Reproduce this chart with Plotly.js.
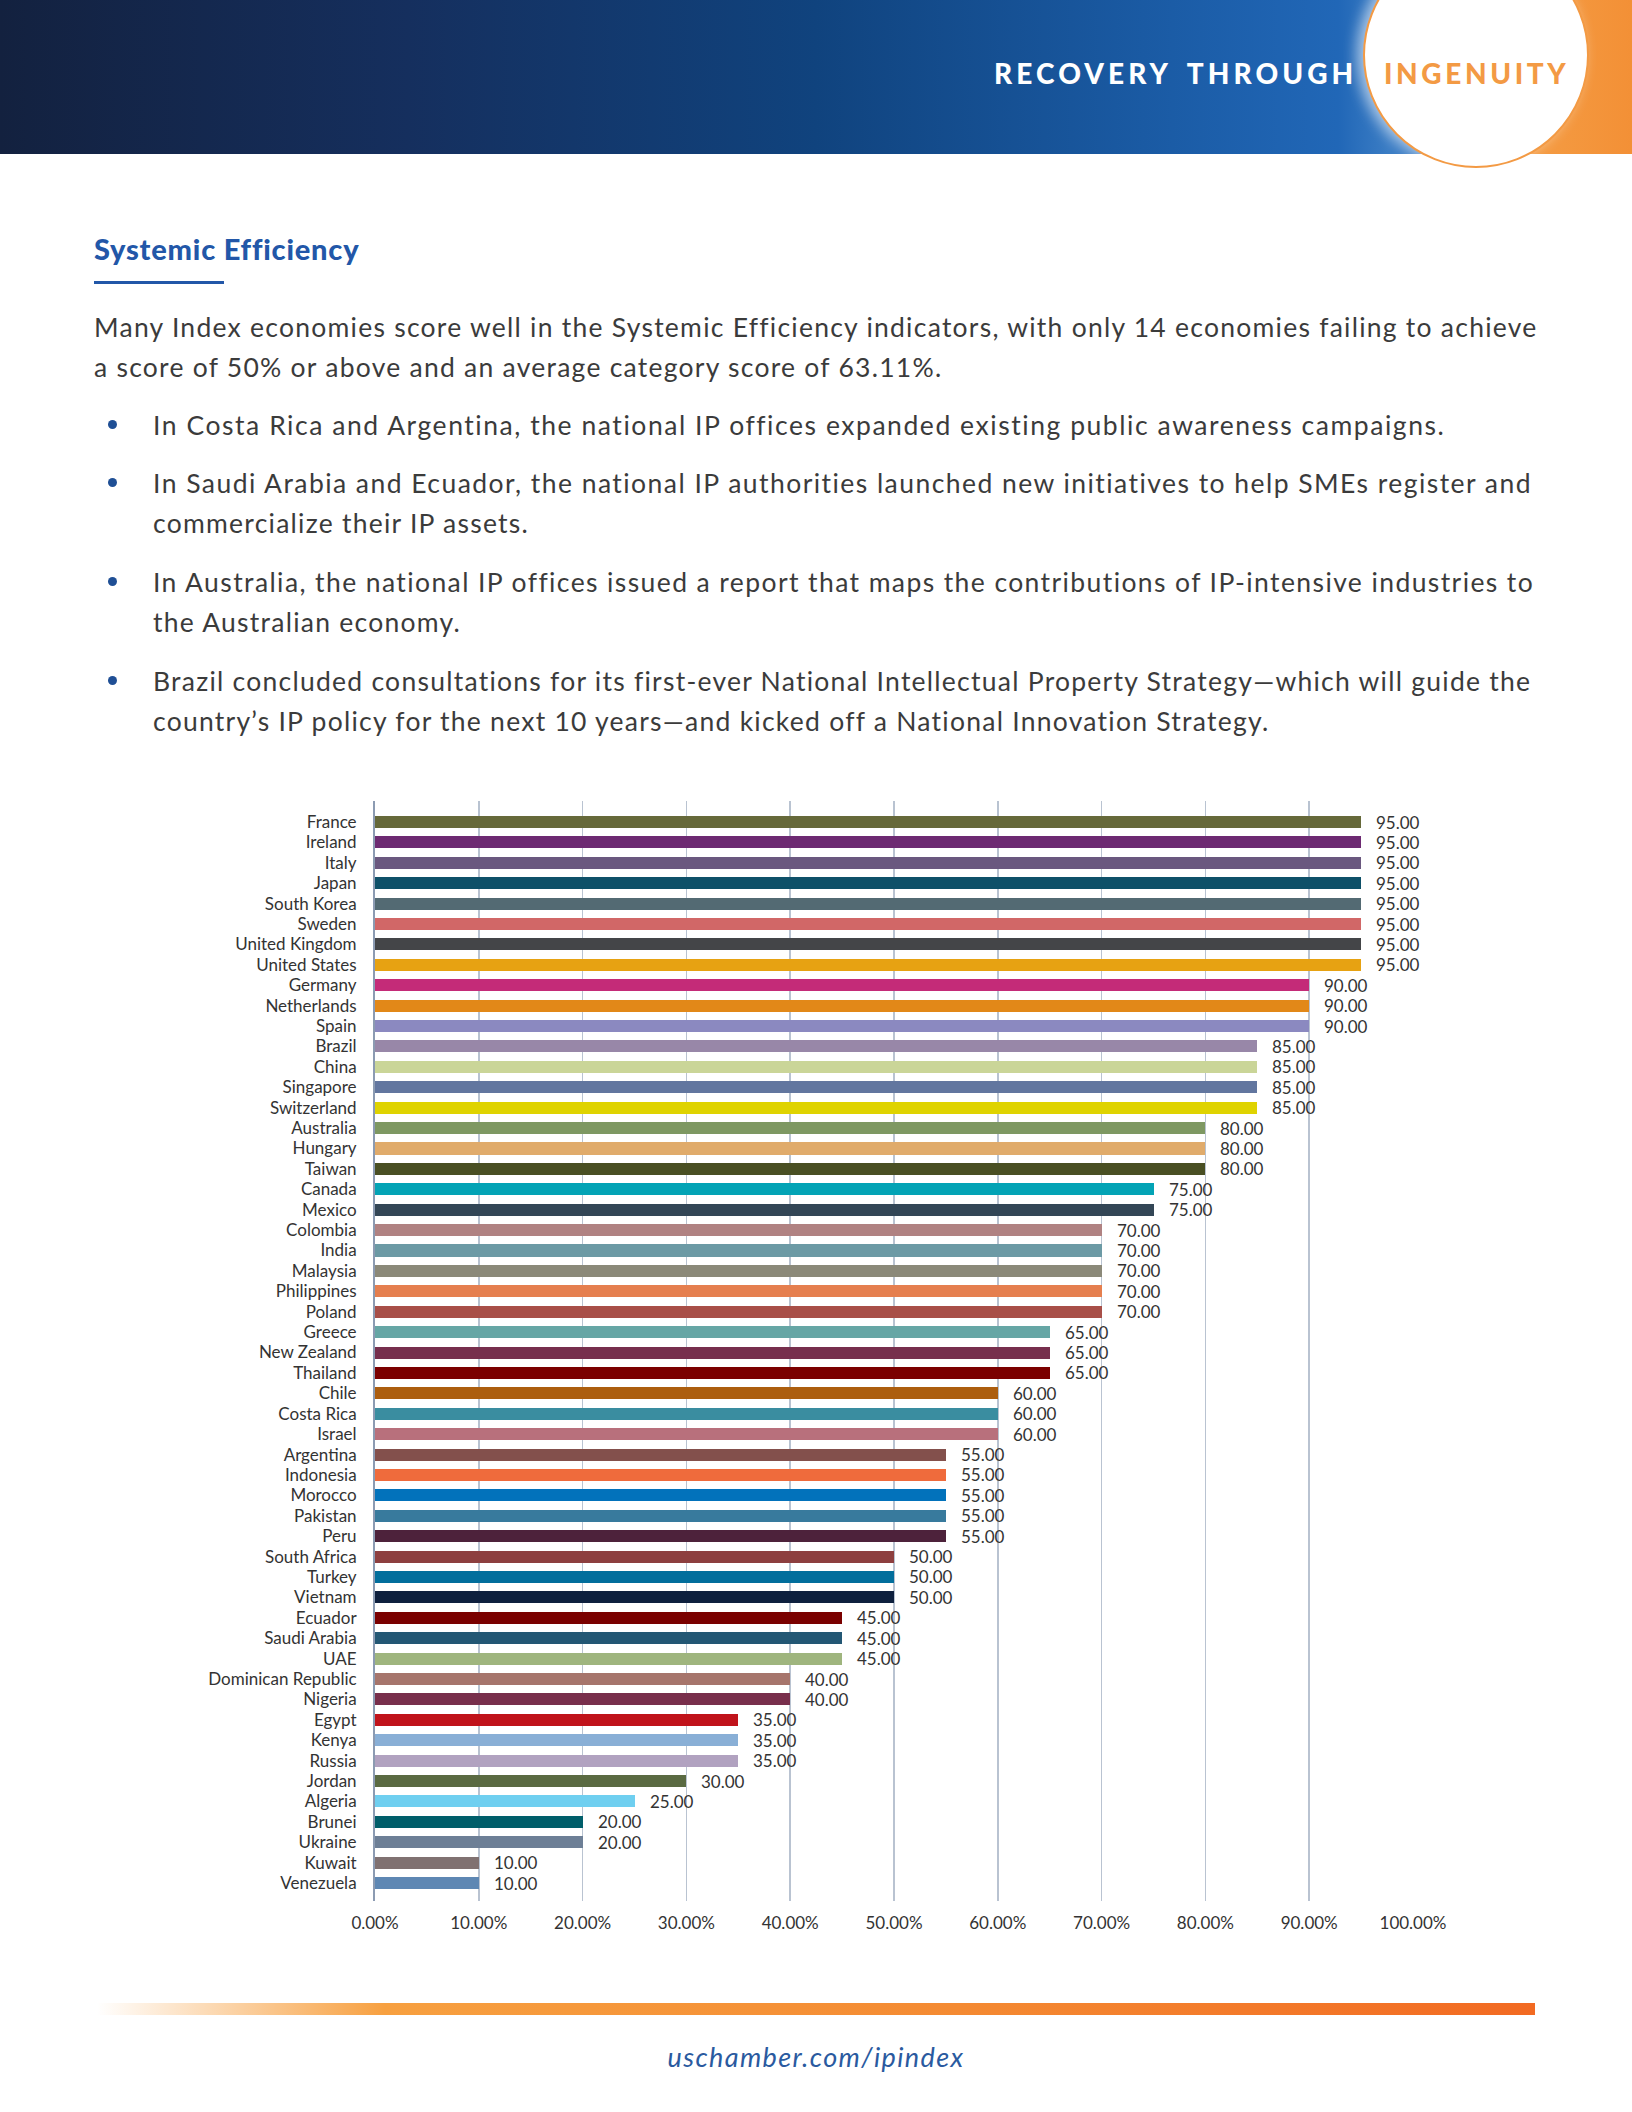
<!DOCTYPE html>
<html>
<head>
<meta charset="utf-8">
<script src="https://cdn.plot.ly/plotly-3.0.1.min.js"></script>
<style>
  html, body { margin:0; padding:0; background:#fff; }
  body { width:1632px; height:2112px; position:relative; overflow:hidden; font-family: Lato, "Noto Sans", sans-serif; color:#3a3a3a; }
  .abs { position:absolute; white-space:nowrap; }
  #header { position:absolute; left:0; top:0; width:1632px; height:154px;
    background: linear-gradient(to right, #13213f 0%, #152f5e 25%, #10437e 50%, #1a5aa3 70%, #2167b7 82%, #3a7cc4 85%); overflow:hidden; }
  #orange { position:absolute; left:1480px; top:0; width:152px; height:154px; background:linear-gradient(to right,#f5a24a,#f39036); }
  #circle { position:absolute; left:1363px; top:-58px; width:222px; height:222px; border-radius:50%; background:#fff; border:2px solid #f39a44; box-shadow: -6px 0 14px rgba(255,255,255,0.6); }
  .hdr { font-weight:900; font-size:28px; letter-spacing:4.1px; }
  .body { font-size:26.5px; line-height:40px; color:#3b3b3b; letter-spacing:1.25px; }
  .dot { position:absolute; width:9px; height:9px; border-radius:50%; background:#1f4f95; }
</style>
</head>
<body>
<div id="header"></div>
<div id="orange"></div>
<div id="circle"></div>
<div class="abs hdr" style="left:994px; top:56px; color:#fff; word-spacing:6px;">RECOVERY THROUGH</div>
<div class="abs hdr" style="left:1384px; top:56px; color:#f39a44; letter-spacing:3.6px;">INGENUITY</div>

<div class="abs" style="left:94px; top:231px; font-size:29px; font-weight:900; color:#2257a8; letter-spacing:0.8px;">Systemic Efficiency</div>
<div class="abs" style="left:94px; top:281px; width:130px; height:3px; background:#2257a8;"></div>

<div class="abs body" style="left:94px; top:307px;">Many Index economies score well in the Systemic Efficiency indicators, with only 14 economies failing to achieve</div>
<div class="abs body" style="left:94px; top:347px;">a score of 50% or above and an average category score of 63.11%.</div>

<div class="dot" style="left:108px; top:420px;"></div>
<div class="abs body" style="left:153px; top:405px; letter-spacing:1.55px;">In Costa Rica and Argentina, the national IP offices expanded existing public awareness campaigns.</div>

<div class="dot" style="left:108px; top:478px;"></div>
<div class="abs body" style="left:153px; top:463px; letter-spacing:1.45px;">In Saudi Arabia and Ecuador, the national IP authorities launched new initiatives to help SMEs register and</div>
<div class="abs body" style="left:153px; top:503px;">commercialize their IP assets.</div>

<div class="dot" style="left:108px; top:577px;"></div>
<div class="abs body" style="left:153px; top:562px; letter-spacing:1.4px;">In Australia, the national IP offices issued a report that maps the contributions of IP-intensive industries to</div>
<div class="abs body" style="left:153px; top:602px;">the Australian economy.</div>

<div class="dot" style="left:108px; top:676px;"></div>
<div class="abs body" style="left:153px; top:661px;">Brazil concluded consultations for its first-ever National Intellectual Property Strategy—which will guide the</div>
<div class="abs body" style="left:153px; top:701px;">country’s IP policy for the next 10 years—and kicked off a National Innovation Strategy.</div>

<div id="chart" style="position:absolute; left:0; top:781px; width:1632px; height:1180px;"></div>

<div class="abs" style="left:97px; top:2003px; width:1438px; height:12px; background:linear-gradient(to right, rgba(247,160,64,0) 0%, #f7a040 20%, #f48a32 60%, #f26a22 100%);"></div>
<div class="abs" style="left:0; width:1632px; text-align:center; top:2040px; font-size:27px; font-style:italic; color:#2a5a9f; letter-spacing:1.4px;">uschamber.com/ipindex</div>

<script>
const countries = ["France","Ireland","Italy","Japan","South Korea","Sweden","United Kingdom","United States","Germany","Netherlands","Spain","Brazil","China","Singapore","Switzerland","Australia","Hungary","Taiwan","Canada","Mexico","Colombia","India","Malaysia","Philippines","Poland","Greece","New Zealand","Thailand","Chile","Costa Rica","Israel","Argentina","Indonesia","Morocco","Pakistan","Peru","South Africa","Turkey","Vietnam","Ecuador","Saudi Arabia","UAE","Dominican Republic","Nigeria","Egypt","Kenya","Russia","Jordan","Algeria","Brunei","Ukraine","Kuwait","Venezuela"];
const scores = [95,95,95,95,95,95,95,95,90,90,90,85,85,85,85,80,80,80,75,75,70,70,70,70,70,65,65,65,60,60,60,55,55,55,55,55,50,50,50,45,45,45,40,40,35,35,35,30,25,20,20,10,10];
const barColors = ["#66693a","#6d2a72","#6a587f","#0e5068","#536a73","#d16767","#444548","#e7a212","#c42b78","#e28818","#8b89c0","#9887a8","#cad598","#62769f","#dfd300","#7e9862","#e0ab6b","#494f23","#03a3b5","#334656","#b08282","#6c9aa5","#8b8979","#e57f4f","#a84f48","#66a6a5","#772f4d","#7b0000","#ac5e0f","#3a8da0","#b8707c","#83504c","#ef6b3c","#0272bb","#387a9d","#4d223b","#8d3f3f","#026e9c","#0e203e","#7a0000","#235774","#9fb57e","#a6756c","#782f4c","#c0131b","#89afd6","#b1a2c0","#5a6a42","#6fcff0","#005e6a","#6d7f96","#807171","#5e87b3"];
const tickVals = [0,10,20,30,40,50,60,70,80,90,100];
const tickText = ["0.00%","10.00%","20.00%","30.00%","40.00%","50.00%","60.00%","70.00%","80.00%","90.00%","100.00%"];

const labelFont = {family:"Lato, 'Noto Sans', sans-serif", size:17, color:"#333333"};

const trace = {
  type:"bar", orientation:"h",
  y: countries, x: scores,
  width: 0.59,
  marker:{color: barColors, line:{width:0}},
  hoverinfo:"none"
};

const annotations = countries.map((c,i)=>({
  x: scores[i], y: c, xref:"x", yref:"y",
  text: scores[i].toFixed(2), showarrow:false,
  xanchor:"left", yanchor:"middle", xshift:13,
  font: labelFont
}));

const layout = {
  width:1632, height:1180,
  margin:{l:375, r:219, t:20, b:60},
  paper_bgcolor:"rgba(0,0,0,0)", plot_bgcolor:"rgba(0,0,0,0)",
  showlegend:false,
  bargap:0,
  xaxis:{
    range:[0,100], tickvals:tickVals, ticktext:tickText,
    showgrid:true, gridcolor:"#b9c3d1", gridwidth:1.5,
    zeroline:false, ticks:"", tickfont:labelFont, ticklabelstandoff:10,
    fixedrange:true
  },
  yaxis:{
    type:"category", categoryorder:"array", categoryarray:countries,
    range:[52.88,-1.03], showgrid:false, zeroline:false,
    showline:true, linecolor:"#8c9bb2", linewidth:2,
    ticks:"", tickfont:labelFont, ticklabelstandoff:13,
    fixedrange:true
  },
  annotations: annotations
};

Plotly.newPlot("chart",[trace],layout,{displayModeBar:false, staticPlot:true});
</script>
</body>
</html>
